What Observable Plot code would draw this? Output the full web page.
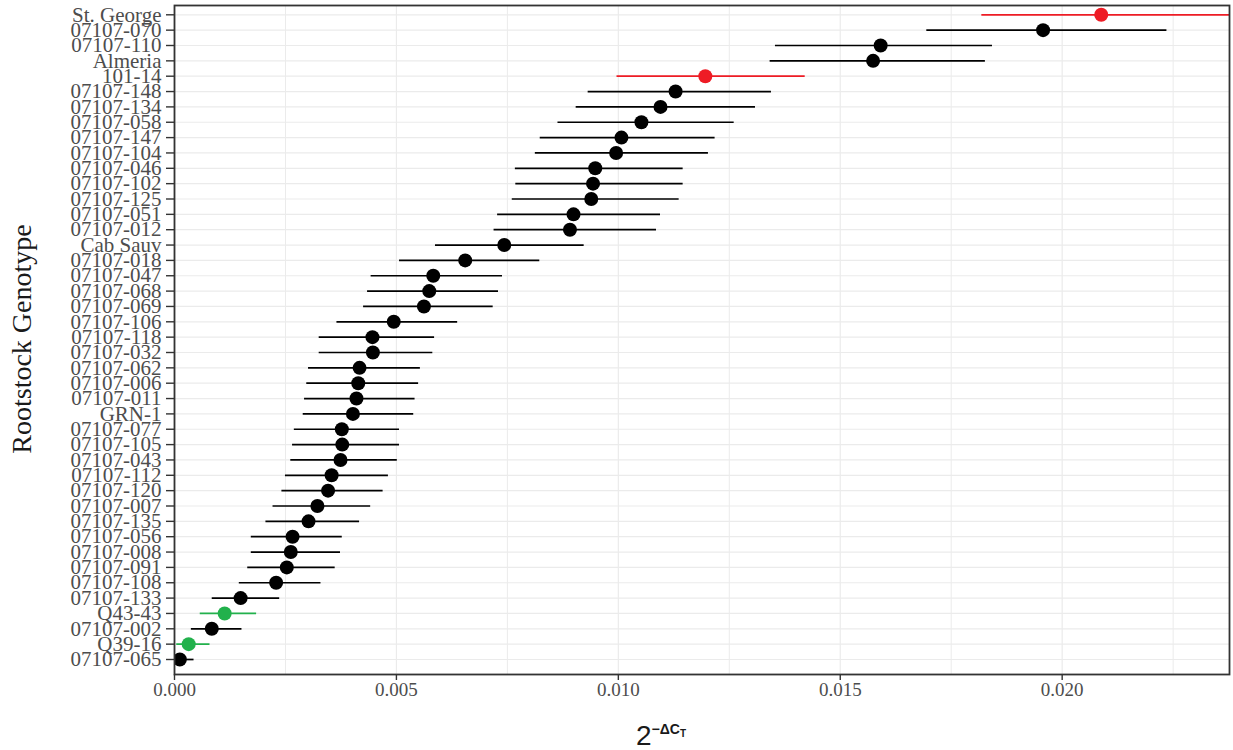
<!DOCTYPE html>
<html>
<head>
<meta charset="utf-8">
<script src="https://cdn.jsdelivr.net/npm/d3@7"></script>
<script src="https://cdn.jsdelivr.net/npm/@observablehq/plot@0.6"></script>
<style>
  html, body { margin: 0; padding: 0; background: #ffffff; }
  #chart { width: 1233px; height: 750px; }
</style>
</head>
<body>
<div id="chart"></div>
<script>
// Rootstock genotypes, top to bottom
const genotypes = ["St. George","07107-070","07107-110","Almeria","101-14","07107-148","07107-134","07107-058","07107-147","07107-104","07107-046","07107-102","07107-125","07107-051","07107-012","Cab Sauv","07107-018","07107-047","07107-068","07107-069","07107-106","07107-118","07107-032","07107-062","07107-006","07107-011","GRN-1","07107-077","07107-105","07107-043","07107-112","07107-120","07107-007","07107-135","07107-056","07107-008","07107-091","07107-108","07107-133","Q43-43","07107-002","Q39-16","07107-065"];

// 2^-ΔCt estimates
const means = [0.02088,0.01957,0.01591,0.01574,0.01196,0.01129,0.01095,0.01052,0.01007,0.00995,0.00948,0.00943,0.00939,0.00899,0.00891,0.00743,0.00655,0.00583,0.00574,0.00562,0.00494,0.00446,0.00447,0.00417,0.00414,0.00410,0.00402,0.00377,0.00378,0.00374,0.00354,0.00346,0.00322,0.00302,0.00266,0.00262,0.00253,0.00229,0.00149,0.00113,0.00084,0.00032,0.00012];

// lower interval bounds
const lowers = [0.01819,0.01695,0.01354,0.01342,0.00997,0.00932,0.00905,0.00864,0.00824,0.00813,0.00768,0.00769,0.00761,0.00728,0.00720,0.00588,0.00507,0.00443,0.00435,0.00426,0.00366,0.00326,0.00326,0.00302,0.00298,0.00293,0.00290,0.00270,0.00266,0.00262,0.00250,0.00242,0.00222,0.00206,0.00173,0.00173,0.00165,0.00146,0.00085,0.00058,0.00038,0.00005,0.00000];

// upper interval bounds
const uppers = [0.02400,0.02236,0.01843,0.01827,0.01421,0.01345,0.01309,0.01261,0.01218,0.01203,0.01146,0.01146,0.01137,0.01095,0.01086,0.00923,0.00823,0.00739,0.00730,0.00718,0.00638,0.00586,0.00582,0.00554,0.00550,0.00542,0.00539,0.00507,0.00507,0.00502,0.00482,0.00470,0.00442,0.00417,0.00378,0.00374,0.00362,0.00330,0.00237,0.00185,0.00152,0.00080,0.00044];

// highlight group per genotype
const groups = ["red","black","black","black","red","black","black","black","black","black","black","black","black","black","black","black","black","black","black","black","black","black","black","black","black","black","black","black","black","black","black","black","black","black","black","black","black","black","black","green","black","green","black"];

const majorTicks = [0, 0.005, 0.010, 0.015, 0.020];
const minorTicks = [0.0025, 0.0075, 0.0125, 0.0175, 0.0225];

const colorMap = {red: "#ee1c25", black: "#000000", green: "#22b14c"};

const data = genotypes.map((g, i) => ({
  genotype: g, mean: means[i], lower: lowers[i], upper: uppers[i], group: groups[i]
}));

const chart = Plot.plot({
  width: 1233,
  height: 750,
  marginLeft: 174,
  marginRight: 4,
  marginTop: 5,
  marginBottom: 76,
  style: {fontFamily: "'Liberation Serif', 'Times New Roman', serif", background: "#ffffff"},
  x: {domain: [0, 0.02377]},
  y: {type: "point", domain: genotypes, range: [14.3, 659], padding: 0, round: false},
  marks: [
    Plot.ruleX(minorTicks, {stroke: "#ebebeb", strokeWidth: 1}),
    Plot.ruleX(majorTicks, {stroke: "#ebebeb", strokeWidth: 1.2}),
    Plot.ruleY(genotypes, {stroke: "#ebebeb", strokeWidth: 1.2}),
    Plot.ruleY(data, {y: "genotype", x1: "lower", x2: "upper", stroke: d => colorMap[d.group], strokeWidth: 1.7, clip: true}),
    Plot.dot(data, {x: "mean", y: "genotype", r: 7, fill: d => colorMap[d.group], stroke: "none", clip: true}),
    Plot.frame({stroke: "#333333", strokeWidth: 1.8}),
    Plot.axisY({tickSize: 8, tickPadding: 5, fontSize: 21, label: null, stroke: "#333333", strokeWidth: 1.4, fill: "#4d4d4d"}),
    Plot.axisX(majorTicks, {tickSize: 6, tickPadding: 2, fontSize: 19, label: null, tickFormat: d3.format(".3f"), stroke: "#333333", strokeWidth: 1.4, fill: "#4d4d4d"})
  ]
});

document.getElementById("chart").appendChild(chart);

const svg = d3.select(chart);

// y-axis title
svg.append("text")
  .attr("transform", "translate(31,339) rotate(-90)")
  .attr("text-anchor", "middle")
  .attr("fill", "#1a1a1a")
  .style("font-family", "'Liberation Serif', 'Times New Roman', serif")
  .style("font-size", "28px")
  .text("Rootstock Genotype");

// x-axis title: 2^(-ΔC_T)
const xt = svg.append("text")
  .attr("x", 661)
  .attr("y", 745)
  .attr("fill", "#1a1a1a")
  .style("font-family", "'Liberation Sans', Arial, sans-serif");
xt.append("tspan").style("font-size", "28px").text("2");
xt.append("tspan").attr("dy", -11).style("font-size", "14px").style("font-weight", "bold").text("\u2212\u0394C");
xt.append("tspan").attr("dy", 3).style("font-size", "10px").style("font-weight", "bold").text("T");
</script>
</body>
</html>
